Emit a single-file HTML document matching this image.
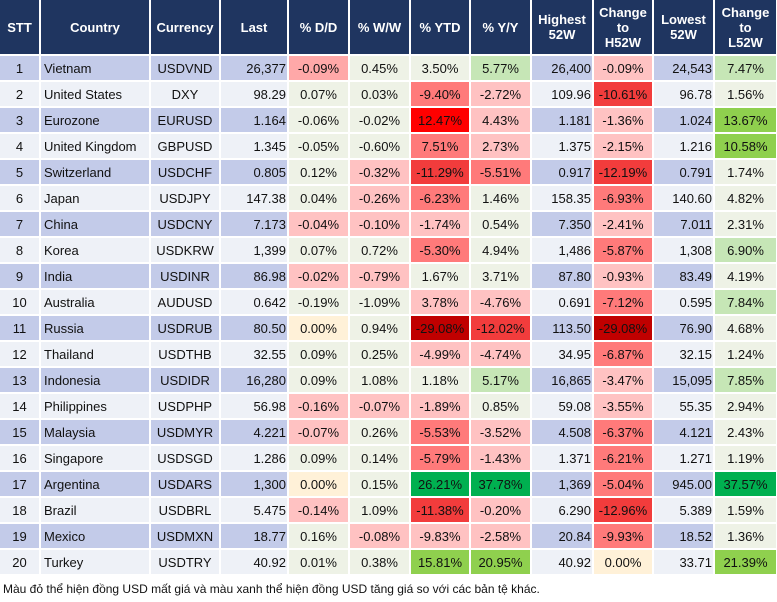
<!DOCTYPE html>
<html><head><meta charset="utf-8"><style>
body{margin:0;background:#fff;width:777px;height:602px;overflow:hidden;font-family:"Liberation Sans",Arial,sans-serif;}
#t{position:relative;width:777px;height:602px;}
.c{position:absolute;box-sizing:border-box;font-size:13px;color:#111;display:flex;align-items:center;white-space:nowrap;}
.h{background:#1f3560;color:#fff;font-weight:bold;justify-content:center;text-align:center;line-height:15px;}
#foot{position:absolute;left:3px;top:582px;font-size:12px;color:#111;}
</style></head><body>
<div id="t"></div>
<div id="foot">Màu đỏ thể hiện đồng USD mất giá và màu xanh thể hiện đồng USD tăng giá so với các bản tệ khác.</div>
<script>
const headers=["STT","Country","Currency","Last","% D/D","% W/W","% YTD","% Y/Y","Highest<br>52W","Change<br>to<br>H52W","Lowest<br>52W","Change<br>to<br>L52W"];
const countries=["Vietnam","United States","Eurozone","United Kingdom","Switzerland","Japan","China","Korea","India","Australia","Russia","Thailand","Indonesia","Philippines","Malaysia","Singapore","Argentina","Brazil","Mexico","Turkey"];
const currencies=["USDVND","DXY","EURUSD","GBPUSD","USDCHF","USDJPY","USDCNY","USDKRW","USDINR","AUDUSD","USDRUB","USDTHB","USDIDR","USDPHP","USDMYR","USDSGD","USDARS","USDBRL","USDMXN","USDTRY"];
const last=["26,377","98.29","1.164","1.345","0.805","147.38","7.173","1,399","86.98","0.642","80.50","32.55","16,280","56.98","4.221","1.286","1,300","5.475","18.77","40.92"];
const dd=["-0.09%","0.07%","-0.06%","-0.05%","0.12%","0.04%","-0.04%","0.07%","-0.02%","-0.19%","0.00%","0.09%","0.09%","-0.16%","-0.07%","0.09%","0.00%","-0.14%","0.16%","0.01%"];
const ww=["0.45%","0.03%","-0.02%","-0.60%","-0.32%","-0.26%","-0.10%","0.72%","-0.79%","-1.09%","0.94%","0.25%","1.08%","-0.07%","0.26%","0.14%","0.15%","1.09%","-0.08%","0.38%"];
const ytd=["3.50%","-9.40%","12.47%","7.51%","-11.29%","-6.23%","-1.74%","-5.30%","1.67%","3.78%","-29.08%","-4.99%","1.18%","-1.89%","-5.53%","-5.79%","26.21%","-11.38%","-9.83%","15.81%"];
const yy=["5.77%","-2.72%","4.43%","2.73%","-5.51%","1.46%","0.54%","4.94%","3.71%","-4.76%","-12.02%","-4.74%","5.17%","0.85%","-3.52%","-1.43%","37.78%","-0.20%","-2.58%","20.95%"];
const high=["26,400","109.96","1.181","1.375","0.917","158.35","7.350","1,486","87.80","0.691","113.50","34.95","16,865","59.08","4.508","1.371","1,369","6.290","20.84","40.92"];
const chgH=["-0.09%","-10.61%","-1.36%","-2.15%","-12.19%","-6.93%","-2.41%","-5.87%","-0.93%","-7.12%","-29.08%","-6.87%","-3.47%","-3.55%","-6.37%","-6.21%","-5.04%","-12.96%","-9.93%","0.00%"];
const low=["24,543","96.78","1.024","1.216","0.791","140.60","7.011","1,308","83.49","0.595","76.90","32.15","15,095","55.35","4.121","1.271","945.00","5.389","18.52","33.71"];
const chgL=["7.47%","1.56%","13.67%","10.58%","1.74%","4.82%","2.31%","6.90%","4.19%","7.84%","4.68%","1.24%","7.85%","2.94%","2.43%","1.19%","37.57%","1.59%","1.36%","21.39%"];
const shade=[
"p2 n n g1 p1 g1","n n p3 p1 p4 n","n n p5 p1 p1 g2","n n p3 p1 p1 g2","n p1 p4 p3 p4 n",
"n p1 p3 n p3 n","p1 p1 p1 n p1 n","n n p3 n p3 g1","p1 p1 n n p1 n","n n p1 p1 p3 g1",
"y n d p4 d n","n n p1 p1 p3 n","n n n g1 p1 g1","p1 p1 p1 n p1 n","p1 n p3 p1 p3 n",
"n n p3 p1 p3 n","y n g3 g3 p3 g3","p1 n p4 p1 p4 n","n p1 p1 p1 p3 n","n n g2 g2 y g2"];
const pal={n:"#eef2e6",y:"#fff1d8",p1:"#ffc2c2",p2:"#ffa8a8",p3:"#ff7a7a",p4:"#f23c3c",p5:"#ff0000",d:"#c00000",g1:"#c6e6b6",g2:"#8fd04e",g3:"#00b050"};
const xs=[0,41,151,221,289,350,411,471,532,594,654,715,777];
const names=["stt","country","currency","last","pct-dd","pct-ww","pct-ytd","pct-yy","highest-52w","change-h52w","lowest-52w","change-l52w"];
const t=document.getElementById('t');
function cell(col,top,h){const d=document.createElement('div');d.className='c';d.style.left=xs[col]+'px';d.style.top=top+'px';d.style.width=(xs[col+1]-xs[col]-(col==11?1:2))+'px';d.style.height=h+'px';t.appendChild(d);return d;}
headers.forEach((h,i)=>{const d=cell(i,0,54);d.classList.add('h');d.innerHTML=h;

});
const pctCols={4:dd,5:ww,6:ytd,7:yy,9:chgH,11:chgL};
for(let r=0;r<20;r++){
 const top=56+r*26;const base=r%2==0?"#c3cbe9":"#eef1f7";
 const sh=shade[r].split(' ');let si=0;
 const vals=[String(r+1),countries[r],currencies[r],last[r],dd[r],ww[r],ytd[r],yy[r],high[r],chgH[r],low[r],chgL[r]];
 for(let c=0;c<12;c++){
  const d=cell(c,top,24);d.textContent=vals[c];
  
  
  if(pctCols[c]){const k=sh[si++];d.style.background=pal[k];d.style.justifyContent='center';}
  else{d.style.background=base;
   if(c==1){d.style.paddingLeft='3px';}
   else if(c==0||c==2){d.style.justifyContent='center';}
   else{d.style.justifyContent='flex-end';d.style.paddingRight='1px';}}
 }
}
</script>
</body></html>
